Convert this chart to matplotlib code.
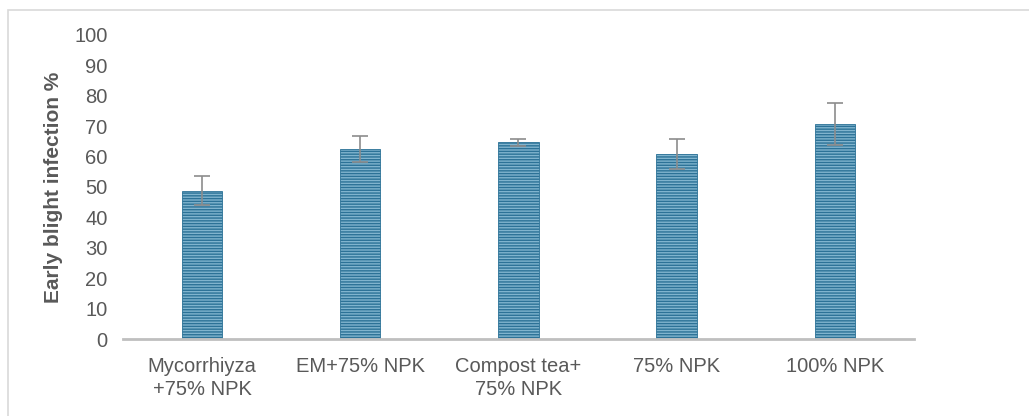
import numpy as np
import matplotlib
matplotlib.use('Agg')
import matplotlib.pyplot as plt
from matplotlib.patches import Rectangle

labels = ['Mycorrhiyza\n+75% NPK', 'EM+75% NPK', 'Compost tea+\n75% NPK', '75% NPK', '100% NPK']
infection = [48.8, 62.5, 64.7, 60.8, 70.8]
err = [4.8, 4.3, 1.1, 5.0, 6.9]
yticks = np.arange(0, 101, 10)

plt.rcParams['font.family'] = ['Liberation Sans', 'DejaVu Sans']
plt.rcParams['hatch.linewidth'] = 1.0

fig = plt.figure(figsize=(10.29, 4.16), dpi=100)
ax = fig.add_axes([0.1195, 0.185, 0.7685, 0.731])

x = np.arange(len(labels))
ax.bar(x, infection, width=0.255, color='#80b4ce', edgecolor='#2c7297',
       linewidth=0.6, hatch='------', zorder=2)
ax.errorbar(x, infection, yerr=err, fmt='none', ecolor='#8c8c8c',
            elinewidth=1.2, capsize=5.5, capthick=1.2, zorder=3)

ax.set_xlim(-0.5, len(labels) - 0.5)
ax.set_ylim(0, 100)
ax.set_yticks(yticks)
ax.set_xticks(x)
ax.set_xticklabels(labels, linespacing=1.25)
ax.tick_params(axis='both', length=0, labelsize=14.5, colors='#595959')
ax.tick_params(axis='y', pad=11)
ax.tick_params(axis='x', pad=13)
for s in ['top', 'right', 'left']:
    ax.spines[s].set_visible(False)
ax.spines['bottom'].set_color('#bfbfbf')
ax.spines['bottom'].set_linewidth(2)
ax.set_ylabel('Early blight infection %', fontsize=15, fontweight='bold',
              color='#595959', labelpad=8)

fig.patches.append(Rectangle((8 / 1029, -0.1), 1.2, 1.1 - 10 / 416,
                             transform=fig.transFigure, fill=False,
                             edgecolor='#d9d9d9', linewidth=1.2))

fig.savefig('out.png', dpi=100)
